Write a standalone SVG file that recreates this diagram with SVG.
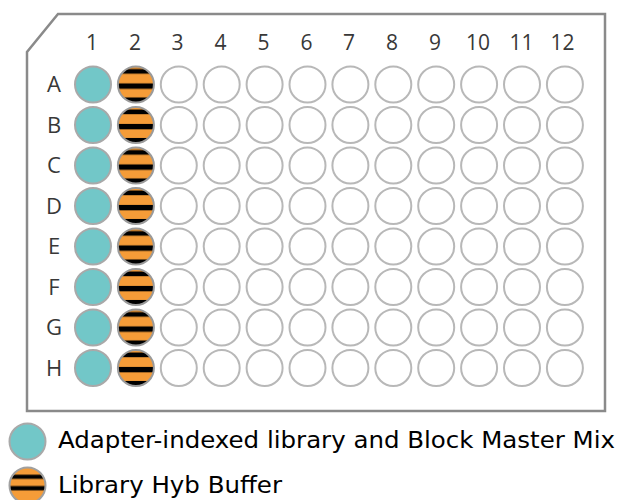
<svg xmlns="http://www.w3.org/2000/svg" width="621" height="500" viewBox="0 0 621 500">
<style>
.plate{fill:#fff;stroke:#8a8a8a;stroke-width:2.5}
.w{fill:#fff;stroke:#b8b8b8;stroke-width:2}
.t{fill:#72c7c8;stroke:#a9a9a9;stroke-width:2}
.s{fill:url(#stripes);stroke:#9a9a9a;stroke-width:2}
.ls{fill:url(#lstripes);stroke:#a0a0a0;stroke-width:2}
.lab{font-family:"Open Sans","Liberation Sans",sans-serif;font-size:21px;fill:#383838;text-anchor:middle}
.rl{font-family:"Open Sans","Liberation Sans",sans-serif;font-size:22px;fill:#383838;text-anchor:middle}
.leg{font-family:"DejaVu Sans","Verdana",sans-serif;font-size:23px;fill:#000}
</style>
<defs>
<pattern id="stripes" patternUnits="objectBoundingBox" patternContentUnits="objectBoundingBox" x="0" y="0" width="1" height="1">
<rect x="0" y="0" width="1" height="1" fill="#f59c38"/>
<rect x="0" y="0.07" width="1" height="0.13" fill="#000"/>
<rect x="0" y="0.47" width="1" height="0.15" fill="#000"/>
<rect x="0" y="0.86" width="1" height="0.14" fill="#000"/>
</pattern>
<pattern id="lstripes" patternUnits="objectBoundingBox" patternContentUnits="objectBoundingBox" x="0" y="0" width="1" height="1">
<rect x="0" y="0" width="1" height="1" fill="#f59c38"/>
<rect x="0" y="0.2" width="1" height="0.115" fill="#000"/>
<rect x="0" y="0.515" width="1" height="0.12" fill="#000"/>
</pattern>
</defs>
<polygon class="plate" points="58,14 605,14 605,411 27,411 27,52"/>
<g id="column-labels">
<text class="lab" x="92" y="50">1</text>
<text class="lab" x="135" y="50">2</text>
<text class="lab" x="177.5" y="50">3</text>
<text class="lab" x="220.5" y="50">4</text>
<text class="lab" x="263.5" y="50">5</text>
<text class="lab" x="306.5" y="50">6</text>
<text class="lab" x="349" y="50">7</text>
<text class="lab" x="392" y="50">8</text>
<text class="lab" x="435" y="50">9</text>
<text class="lab" x="478" y="50">10</text>
<text class="lab" x="521.5" y="50">11</text>
<text class="lab" x="562.5" y="50">12</text>
</g>
<g id="row-labels">
<text class="rl" x="54" y="92">A</text>
<text class="rl" x="54" y="132.5">B</text>
<text class="rl" x="54" y="173">C</text>
<text class="rl" x="54" y="213.5">D</text>
<text class="rl" x="54" y="254">E</text>
<text class="rl" x="54" y="294.5">F</text>
<text class="rl" x="54" y="335">G</text>
<text class="rl" x="54" y="375.5">H</text>
</g>
<g id="row-A">
<circle class="t" cx="93" cy="84.5" r="18"/><circle class="s" cx="135.9" cy="84.5" r="18"/><circle class="w" cx="178.8" cy="84.5" r="18"/><circle class="w" cx="221.7" cy="84.5" r="18"/><circle class="w" cx="264.6" cy="84.5" r="18"/><circle class="w" cx="307.5" cy="84.5" r="18"/><circle class="w" cx="350.4" cy="84.5" r="18"/><circle class="w" cx="393.3" cy="84.5" r="18"/><circle class="w" cx="436.2" cy="84.5" r="18"/><circle class="w" cx="479.1" cy="84.5" r="18"/><circle class="w" cx="522" cy="84.5" r="18"/><circle class="w" cx="564.9" cy="84.5" r="18"/>
</g>
<g id="row-B">
<circle class="t" cx="93" cy="125" r="18"/><circle class="s" cx="135.9" cy="125" r="18"/><circle class="w" cx="178.8" cy="125" r="18"/><circle class="w" cx="221.7" cy="125" r="18"/><circle class="w" cx="264.6" cy="125" r="18"/><circle class="w" cx="307.5" cy="125" r="18"/><circle class="w" cx="350.4" cy="125" r="18"/><circle class="w" cx="393.3" cy="125" r="18"/><circle class="w" cx="436.2" cy="125" r="18"/><circle class="w" cx="479.1" cy="125" r="18"/><circle class="w" cx="522" cy="125" r="18"/><circle class="w" cx="564.9" cy="125" r="18"/>
</g>
<g id="row-C">
<circle class="t" cx="93" cy="165.5" r="18"/><circle class="s" cx="135.9" cy="165.5" r="18"/><circle class="w" cx="178.8" cy="165.5" r="18"/><circle class="w" cx="221.7" cy="165.5" r="18"/><circle class="w" cx="264.6" cy="165.5" r="18"/><circle class="w" cx="307.5" cy="165.5" r="18"/><circle class="w" cx="350.4" cy="165.5" r="18"/><circle class="w" cx="393.3" cy="165.5" r="18"/><circle class="w" cx="436.2" cy="165.5" r="18"/><circle class="w" cx="479.1" cy="165.5" r="18"/><circle class="w" cx="522" cy="165.5" r="18"/><circle class="w" cx="564.9" cy="165.5" r="18"/>
</g>
<g id="row-D">
<circle class="t" cx="93" cy="206" r="18"/><circle class="s" cx="135.9" cy="206" r="18"/><circle class="w" cx="178.8" cy="206" r="18"/><circle class="w" cx="221.7" cy="206" r="18"/><circle class="w" cx="264.6" cy="206" r="18"/><circle class="w" cx="307.5" cy="206" r="18"/><circle class="w" cx="350.4" cy="206" r="18"/><circle class="w" cx="393.3" cy="206" r="18"/><circle class="w" cx="436.2" cy="206" r="18"/><circle class="w" cx="479.1" cy="206" r="18"/><circle class="w" cx="522" cy="206" r="18"/><circle class="w" cx="564.9" cy="206" r="18"/>
</g>
<g id="row-E">
<circle class="t" cx="93" cy="246.5" r="18"/><circle class="s" cx="135.9" cy="246.5" r="18"/><circle class="w" cx="178.8" cy="246.5" r="18"/><circle class="w" cx="221.7" cy="246.5" r="18"/><circle class="w" cx="264.6" cy="246.5" r="18"/><circle class="w" cx="307.5" cy="246.5" r="18"/><circle class="w" cx="350.4" cy="246.5" r="18"/><circle class="w" cx="393.3" cy="246.5" r="18"/><circle class="w" cx="436.2" cy="246.5" r="18"/><circle class="w" cx="479.1" cy="246.5" r="18"/><circle class="w" cx="522" cy="246.5" r="18"/><circle class="w" cx="564.9" cy="246.5" r="18"/>
</g>
<g id="row-F">
<circle class="t" cx="93" cy="287" r="18"/><circle class="s" cx="135.9" cy="287" r="18"/><circle class="w" cx="178.8" cy="287" r="18"/><circle class="w" cx="221.7" cy="287" r="18"/><circle class="w" cx="264.6" cy="287" r="18"/><circle class="w" cx="307.5" cy="287" r="18"/><circle class="w" cx="350.4" cy="287" r="18"/><circle class="w" cx="393.3" cy="287" r="18"/><circle class="w" cx="436.2" cy="287" r="18"/><circle class="w" cx="479.1" cy="287" r="18"/><circle class="w" cx="522" cy="287" r="18"/><circle class="w" cx="564.9" cy="287" r="18"/>
</g>
<g id="row-G">
<circle class="t" cx="93" cy="327.5" r="18"/><circle class="s" cx="135.9" cy="327.5" r="18"/><circle class="w" cx="178.8" cy="327.5" r="18"/><circle class="w" cx="221.7" cy="327.5" r="18"/><circle class="w" cx="264.6" cy="327.5" r="18"/><circle class="w" cx="307.5" cy="327.5" r="18"/><circle class="w" cx="350.4" cy="327.5" r="18"/><circle class="w" cx="393.3" cy="327.5" r="18"/><circle class="w" cx="436.2" cy="327.5" r="18"/><circle class="w" cx="479.1" cy="327.5" r="18"/><circle class="w" cx="522" cy="327.5" r="18"/><circle class="w" cx="564.9" cy="327.5" r="18"/>
</g>
<g id="row-H">
<circle class="t" cx="93" cy="368" r="18"/><circle class="s" cx="135.9" cy="368" r="18"/><circle class="w" cx="178.8" cy="368" r="18"/><circle class="w" cx="221.7" cy="368" r="18"/><circle class="w" cx="264.6" cy="368" r="18"/><circle class="w" cx="307.5" cy="368" r="18"/><circle class="w" cx="350.4" cy="368" r="18"/><circle class="w" cx="393.3" cy="368" r="18"/><circle class="w" cx="436.2" cy="368" r="18"/><circle class="w" cx="479.1" cy="368" r="18"/><circle class="w" cx="522" cy="368" r="18"/><circle class="w" cx="564.9" cy="368" r="18"/>
</g>
<g id="legend-teal">
<circle class="t" cx="27.5" cy="441.5" r="18"/>
<text class="leg" x="58" y="448" textLength="557" lengthAdjust="spacingAndGlyphs">Adapter-indexed library and Block Master Mix</text>
</g>
<g id="legend-orange">
<circle class="ls" cx="27.5" cy="485.5" r="18"/>
<text class="leg" x="58" y="493" textLength="224" lengthAdjust="spacingAndGlyphs">Library Hyb Buffer</text>
</g>
</svg>
